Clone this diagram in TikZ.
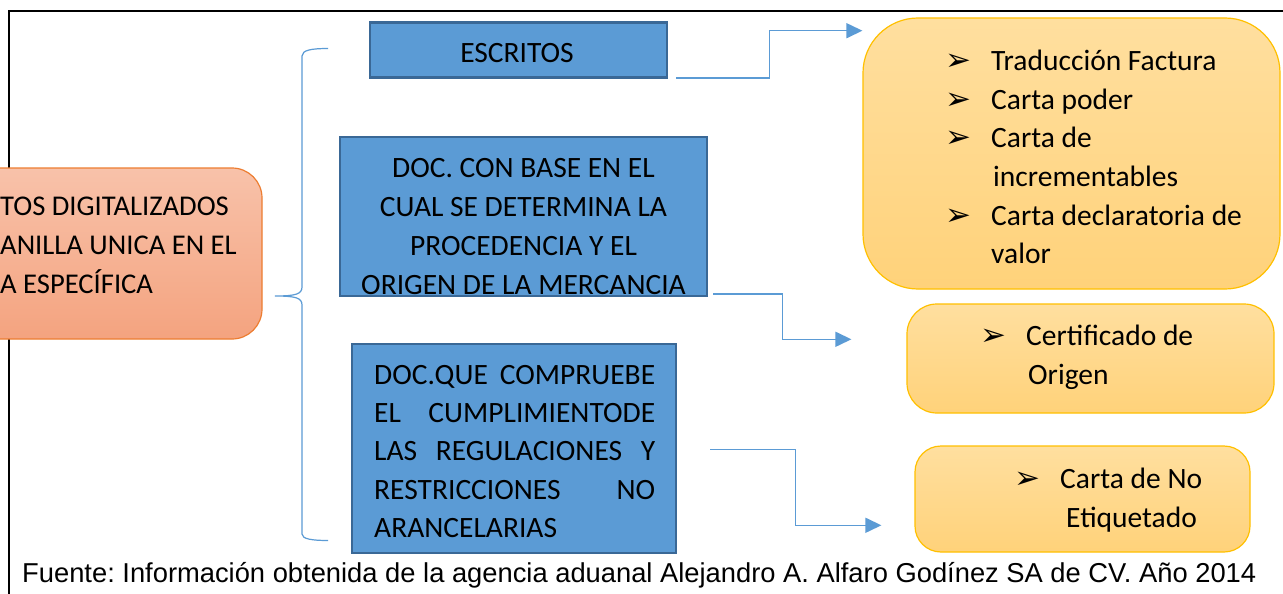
\documentclass[tikz,border=0pt]{standalone}
\usepackage{graphicx}
\usepackage{fontspec}
\setmainfont{Carlito}
\newfontfamily\arialf{Liberation Sans}
\newfontfamily\dejavuf{DejaVu Sans}
\usetikzlibrary{arrows.meta,calc}
\definecolor{bfill}{HTML}{5B9BD5}
\definecolor{bdraw}{HTML}{3A6896}
\definecolor{otop}{HTML}{F8C2AA}
\definecolor{obot}{HTML}{F4A37F}
\definecolor{odraw}{HTML}{ED7D31}
\definecolor{ytop}{HTML}{FFDF9F}
\definecolor{ybot}{HTML}{FFD27A}
\definecolor{ydraw}{HTML}{FFC000}
\definecolor{lblue}{HTML}{5B9BD5}
\newcommand{\bulglyph}{\smash{\raisebox{0pt}{\dejavuf\fontsize{31}{31}\selectfont ➢}}}
\newcommand{\bitem}[1]{\llap{\makebox[46pt][l]{\bulglyph}}#1}
\begin{document}
\frenchspacing
\begin{tikzpicture}[x=1pt,y=-1pt,
  bluebox/.style={draw=bdraw,fill=bfill,line width=2.4pt,inner sep=0pt},
  orangebox/.style={draw=odraw,line width=1.2pt,top color=otop,bottom color=obot,rounded corners=30pt,inner sep=0pt},
  yelbox/.style={draw=ydraw,line width=1.2pt,top color=ytop,bottom color=ybot,inner sep=0pt},
  txt/.style={inner sep=0pt,font=\fontsize{29.5}{39}\selectfont},
  conn/.style={draw=lblue,line width=1.5pt,-{Triangle[length=16pt,width=15pt]}},
  bracestyle/.style={draw=lblue,line width=1.2pt}]
\useasboundingbox (0,0) rectangle (1283,594);
\clip (0,0) rectangle (1283,594);
\fill[white] (0,0) rectangle (1283,594);
% frame
\draw[black,line width=2.2pt] (9,600) -- (9,11) -- (1290,11);
% left box
\node[orangebox,minimum width=302pt,minimum height=171pt] (left) at (111,253.5) {};
\node[txt,anchor=west,align=left,font=\fontsize{28.6}{39}\selectfont] (lefttxt) at (0,245) {TOS DIGITALIZADOS\\ANILLA UNICA EN EL\\A ESPECÍFICA};
% brace
\draw[bracestyle] (328,48.5) .. controls (312,48.5) and (302,50) .. (302,56) -- (302,287)
  .. controls (302,294) and (296,296) .. (275,296)
  .. controls (296,296) and (302,298) .. (302,305) -- (302,534)
  .. controls (302,539) and (312,540.5) .. (328,540.5);
% blue boxes
\node[bluebox,minimum width=297pt,minimum height=55pt] (esc) at (518.5,50) {};
\node[txt] (esctxt) at (517,53) {ESCRITOS};
\node[bluebox,minimum width=367pt,minimum height=159pt] (b2) at (523.5,216.5) {};
\node[txt,align=center] (b2txt) at (523.5,226.5) {DOC. CON BASE EN EL\\CUAL SE DETERMINA LA\\PROCEDENCIA Y EL\\ORIGEN DE LA MERCANCIA};
\node[bluebox,minimum width=324pt,minimum height=209pt] (b3) at (514,448.5) {};
\node[txt,anchor=west,align=left,font=\fontsize{29.5}{38.3}\selectfont] (b3txt) at (374,451.5) {%
\hbox to 281pt{DOC.QUE\hfill COMPRUEBE}\\
\hbox to 281pt{EL\hfill CUMPLIMIENTODE}\\
\hbox to 281pt{LAS\hfill REGULACIONES\hfill Y}\\
\hbox to 281pt{RESTRICCIONES\hfill NO}\\
ARANCELARIAS};
% yellow boxes
\node[yelbox,rounded corners=55pt,minimum width=417pt,minimum height=271pt] (ya) at (1071.5,153.5) {};
\node[txt,anchor=west,align=left,font=\fontsize{29.5}{38.6}\selectfont] (yatxt) at (991,157) {%
\bitem{Traducción Factura}\\
\bitem{Carta poder}\\
\bitem{Carta de}\\
\hspace*{2pt}incrementables\\
\bitem{Carta declaratoria de}\\
valor};
\node[yelbox,rounded corners=30pt,minimum width=367pt,minimum height=109pt] (yb) at (1090.5,358.5) {};
\node[txt,anchor=west,align=left] (ybtxt) at (1026,357.5) {\bitem{Certificado de}\\\hspace*{2pt}Origen};
\node[yelbox,rounded corners=26pt,minimum width=335pt,minimum height=106pt] (yc) at (1082.5,499) {};
\node[txt,anchor=west,align=left] (yctxt) at (1060,500) {\bitem{Carta de No}\\\hspace*{6pt}Etiquetado};
% connectors
\draw[conn] ($(esc.south east)+(8,-0.5)$) -| (769.3,30.7) -- (ya.west |- 0,30.7);
\draw[conn] ($(b2.south east)+(5,-3.3)$) -| (782.7,339.3) -- ($(yb.west |- 0,339.3)+(-55,0)$);
\draw[conn] ($(b3.east)+(33,0.8)$) -| (795.3,525.3) -- ($(yc.west |- 0,525.3)+(-33,0)$);
% source
\node[anchor=west,inner sep=0pt] (src) at (22,575) {\resizebox{1234pt}{!}{\arialf\fontsize{24}{24}\selectfont Fuente: Información obtenida de la agencia aduanal Alejandro A. Alfaro Godínez SA de CV. Año 2014}};
\end{tikzpicture}
\end{document}
